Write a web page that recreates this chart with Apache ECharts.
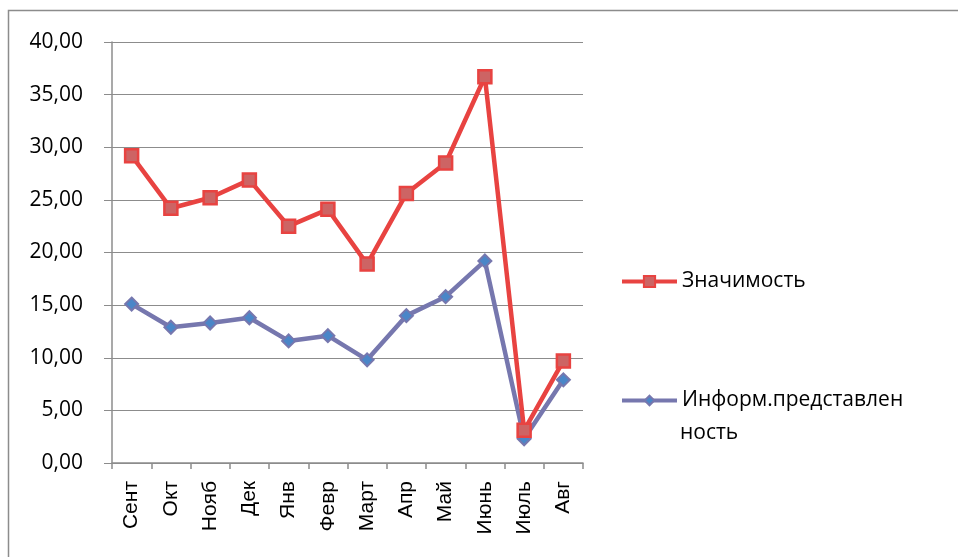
<!DOCTYPE html>
<html>
<head>
<meta charset="utf-8" />
<title></title>
<script src="https://cdn.jsdelivr.net/npm/echarts@6/dist/echarts.min.js"></script>
</head>
<body style="margin:0;background:#fff;">
<div id="main" style="width:958px;height:557px;"></div>
<script>
var months = ['Сент','Окт','Нояб','Дек','Янв','Февр','Март','Апр','Май','Июнь','Июль','Авг'];
var znachimost = [29.2, 24.2, 25.2, 26.9, 22.5, 24.1, 18.9, 25.6, 28.5, 36.7, 3.1, 9.7];
var inform = [15.1, 12.9, 13.3, 13.8, 11.6, 12.1, 9.8, 14.0, 15.8, 19.2, 2.3, 7.9];
var nameA = 'Значимость';
var nameB = 'Информ.представленность';

var myChart = echarts.init(document.getElementById('main'));
var option = {
    backgroundColor: '#fff',
    animation: false,
    graphic: [{
        type: 'rect',
        left: 6, top: 8,
        shape: {width: 1000, height: 600},
        style: {fill: 'none', stroke: '#8c8c8c', lineWidth: 1.5},
        silent: true
    }, {
        // second line of the wrapped legend label
        type: 'text',
        left: 680, top: 423,
        style: {text: 'ность', fontFamily: 'Open Sans', fontSize: 21, fill: '#000'},
        silent: true
    }],
    grid: {left: 112, right: 375, top: 42, bottom: 94, containLabel: false},
    legend: [{
        data: [nameA],
        left: 615, top: 266,
        itemWidth: 55, itemHeight: 14,
        lineStyle: {width: 4},
        textStyle: {fontFamily: 'Open Sans', fontSize: 21, color: '#000'}
    }, {
        data: [nameB],
        left: 615, top: 385,
        itemWidth: 55, itemHeight: 12,
        lineStyle: {width: 4},
        formatter: function (n) { return 'Информ.представлен'; },
        textStyle: {fontFamily: 'Open Sans', fontSize: 21, color: '#000'}
    }],
    xAxis: {
        type: 'category',
        data: months,
        boundaryGap: true,
        axisLine: {lineStyle: {color: '#8c8c8c', width: 1.5}},
        axisTick: {show: true, length: 6, lineStyle: {color: '#8c8c8c', width: 1.5}},
        axisLabel: {rotate: 90, margin: 18, interval: 0, fontFamily: 'Liberation Sans', fontSize: 21, color: '#000'}
    },
    yAxis: {
        type: 'value',
        min: 0, max: 40, interval: 5,
        axisLine: {show: true, lineStyle: {color: '#8c8c8c', width: 1.5}},
        axisTick: {show: true, length: 8, lineStyle: {color: '#8c8c8c'}},
        splitLine: {lineStyle: {color: '#8c8c8c', width: 1}},
        axisLabel: {
            margin: 29, fontFamily: 'Open Sans', fontSize: 21, color: '#000',
            formatter: function (v) { return v.toFixed(2).replace('.', ','); }
        }
    },
    series: [{
        name: nameA,
        type: 'line',
        data: znachimost,
        symbol: 'rect',
        symbolSize: 13,
        lineStyle: {color: '#e84341', width: 4.5},
        itemStyle: {color: '#cd6464', borderColor: '#e84341', borderWidth: 2.5},
        z: 3
    }, {
        name: nameB,
        type: 'line',
        data: inform,
        symbol: 'diamond',
        symbolSize: 13,
        lineStyle: {color: '#7677ae', width: 4.5},
        itemStyle: {color: '#4a86c8', borderColor: '#7677ae', borderWidth: 2},
        z: 2
    }]
};
myChart.setOption(option);
</script>
</body>
</html>
